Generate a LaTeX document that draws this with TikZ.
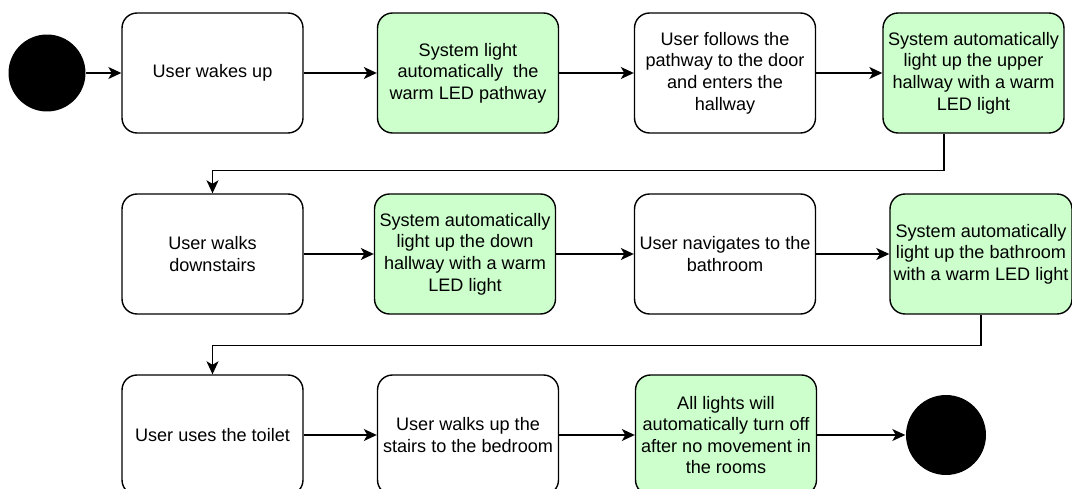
\documentclass[tikz,border=0pt]{standalone}
\usepackage{fontspec}
\setmainfont{Liberation Sans}
\usetikzlibrary{arrows.meta}
\definecolor{stepgreen}{HTML}{CCFFCC}
\begin{document}
\begin{tikzpicture}[x=0.02cm,y=-0.02cm,line width=0.8pt,
    state/.style={draw,rounded corners=0.3cm,minimum width=3.62cm,minimum height=2.4cm,align=center,inner sep=2pt,font=\fontsize{10.3}{12.3}\selectfont},
    auto state/.style={state,fill=stepgreen},
    dot/.style={circle,fill=black,minimum size=#1,inner sep=0pt},
    flow/.style={-{Stealth[length=0.26cm,width=0.24cm,inset=0.07cm]}}]
    \clip (0,0) rectangle (1072,489);
    \node[dot=1.54cm] (start) at (47,73) {};
    \node[state] (b1) at (212.5,73) {User wakes up};
    \node[auto state] (b2) at (468,73) {System light\\automatically\ \ the\\warm LED pathway};
    \node[state] (b3) at (725,73) {User follows the\\pathway to the door\\and enters the\\hallway};
    \node[auto state] (b4) at (973.5,73) {System automatically\\light up the upper\\hallway with a warm\\LED light};
    \node[state] (b5) at (212.5,254) {User walks\\downstairs};
    \node[auto state] (b6) at (465,254) {System automatically\\light up the down\\hallway with a warm\\LED light};
    \node[state] (b7) at (725,254) {User navigates to the\\bathroom};
    \node[auto state] (b8) at (981,254) {System automatically\\light up the bathroom\\with a warm LED light};
    \node[state] (b9) at (212.5,435) {User uses the toilet};
    \node[state] (b10) at (468,435) {User walks up the\\stairs to the bedroom};
    \node[auto state] (b11) at (726,435) {All lights will\\automatically turn off\\after no movement in\\the rooms};
    \node[dot=1.6cm] (stop) at (946,435) {};
    \draw[flow] (start) -- (b1);
    \draw[flow] (b1) -- (b2);
    \draw[flow] (b2) -- (b3);
    \draw[flow] (b3) -- (b4);
    \draw[flow] ([xshift=-0.59cm]b4.south) -- ++(0,37) -| (b5.north);
    \draw[flow] (b5) -- (b6);
    \draw[flow] (b6) -- (b7);
    \draw[flow] (b7) -- (b8);
    \draw[flow] (b8.south) -- ++(0,31) -| (b9.north);
    \draw[flow] (b9) -- (b10);
    \draw[flow] (b10) -- (b11);
    \draw[flow] (b11) -- (stop);
\end{tikzpicture}
\end{document}
